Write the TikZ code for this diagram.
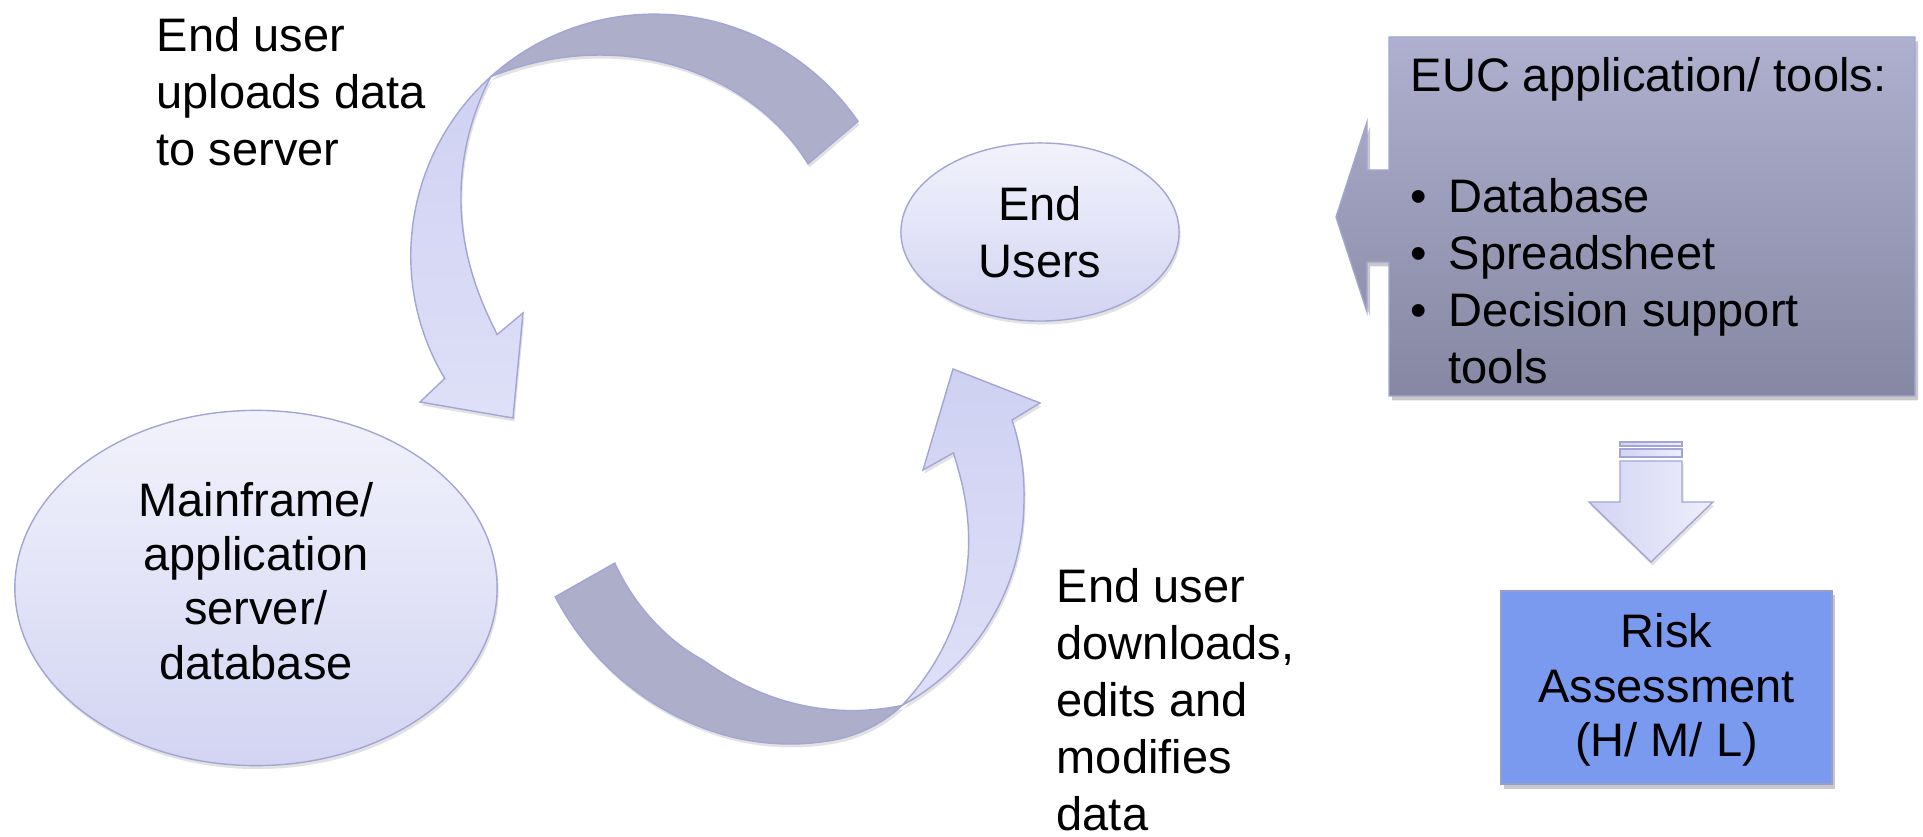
\documentclass[tikz,border=0pt]{standalone}
\usepackage{fontspec}
\setmainfont{Liberation Sans}
\usetikzlibrary{shapes.geometric,shadows}

\definecolor{ovalTop}{RGB}{242,242,252}
\definecolor{ovalBot}{RGB}{210,212,242}
\definecolor{edgeLav}{RGB}{163,166,212}
\definecolor{bandBack}{RGB}{172,174,202}
\definecolor{bandFrontA}{RGB}{207,209,242}
\definecolor{bandFrontB}{RGB}{222,224,248}
\definecolor{calloutTop}{RGB}{174,176,207}
\definecolor{calloutBot}{RGB}{134,135,162}
\definecolor{riskBlue}{RGB}{122,154,240}
\definecolor{riskEdge}{RGB}{150,158,205}
\definecolor{downL}{RGB}{210,212,243}
\definecolor{downR}{RGB}{238,238,251}

\newcommand{\slidetext}{\fontsize{13.37pt}{16.2pt}\selectfont}
\newcommand{\tighttext}{\fontsize{13.37pt}{15.45pt}\selectfont}
\newcommand{\bul}{\makebox[0.38cm][l]{•}}

\begin{document}
\begin{tikzpicture}[x=0.01cm,y=-0.01cm,
  declare function={
    sq(\a)=(\a)*(\a);
    topout(\t)=250-13*(\t-33.7)/176.3;
    topbackin(\t)=185+57.8*pow(max((\t-31.3)/99.7,0.02),2.5);
    topfrontin(\t)=170+72.8*pow(max(1-(\t-131)/75,0.02),1.74);
    botbackout(\t)=244+10*sq(max((\t-110)/47.6,0))-10*sq(max((80-(\t))/18.6,0));
    botbackin(\t)=182+52*pow(max((120-(\t))/58.6,0.02),1.4)+4*sq(max((\t-130)/30.2,0));
    botfrontout(\t)=234+2*max((0-(\t))/19.8,0);
    botfrontin(\t)=170+64*pow(max((\t+16.1)/77.5,0.02),1.6);
  },
  outline/.style={draw=edgeLav,line width=0.4pt},
  softshadow/.style={drop shadow={shadow xshift=0.015cm,shadow yshift=-0.035cm,opacity=0.16,fill=black!70}},
  boxshadow/.style={drop shadow={shadow xshift=0.03cm,shadow yshift=-0.045cm,opacity=0.3,fill=black!70}},
  backband/.style={fill=bandBack,outline,softshadow},
  frontband/.style={top color=bandFrontA,bottom color=bandFrontB,outline,softshadow},
  oval/.style={ellipse,top color=ovalTop,bottom color=ovalBot,outline,softshadow,
    align=center,font=\slidetext,inner sep=0pt},
  label/.style={font=\slidetext,align=left,inner sep=0pt,anchor=west}]

\fill[white] (0,0) rectangle (1923,837);
\useasboundingbox (0,0) rectangle (1923,837);

% upper ribbon arrow: back face, then front face with head
\path[backband]
  plot[domain=33.7:131,samples=60,variable=\p] ({650+topout(\p)*cos(\p)},{260-topout(\p)*sin(\p)})
  -- plot[domain=131:31.3,samples=60,variable=\p] ({650+topbackin(\p)*cos(\p)},{260-topbackin(\p)*sin(\p)})
  -- cycle;
\path[frontband]
  plot[domain=131:210,samples=60,variable=\p] ({650+topout(\p)*cos(\p)},{260-topout(\p)*sin(\p)})
  -- (420,402) -- (513,418) -- (523,313)
  -- plot[domain=206:131,samples=60,variable=\p] ({650+topfrontin(\p)*cos(\p)},{260-topfrontin(\p)*sin(\p)})
  -- cycle;

% lower ribbon arrow
\path[backband]
  plot[domain=157.6:61.4,samples=70,variable=\p] ({790+botbackout(\p)*cos(\p)},{500+botbackout(\p)*sin(\p)})
  -- plot[domain=61.4:160.2,samples=70,variable=\p] ({790+botbackin(\p)*cos(\p)},{500+botbackin(\p)*sin(\p)})
  -- cycle;
\path[frontband]
  plot[domain=61.4:-19.8,samples=60,variable=\p] ({790+botfrontout(\p)*cos(\p)},{500+botfrontout(\p)*sin(\p)})
  -- (1040,403) -- (953,369) -- (923,470)
  -- plot[domain=-16.1:61.4,samples=60,variable=\p] ({790+botfrontin(\p)*cos(\p)},{500+botfrontin(\p)*sin(\p)})
  -- cycle;

% ovals
\node[oval,minimum width=2.78cm,minimum height=1.78cm] (users) at (1040,232) {End\\Users};
\node[oval,minimum width=4.82cm,minimum height=3.55cm] (mainframe) at (256,588) {};
\node[font=\tighttext,align=center,inner sep=0pt] (mainframetext) at (256,581)
  {Mainframe/\\application\\server/\\database};

% side captions
\node[label] (upload) at (156,92) {End user\\uploads data\\to server};
\node[label] (download) at (1056,700) {End user\\downloads,\\edits and\\modifies\\data};

% callout box pointing at the users
\path[top color=calloutTop,bottom color=calloutBot,outline,boxshadow]
  (1389,37) -- (1915,37) -- (1915,396) -- (1389,396) -- (1389,262) -- (1367,262)
  -- (1367,312) -- (1336,217) -- (1367,122) -- (1367,170) -- (1389,170) -- cycle;
\node[label] (tools) at (1410,221)
  {EUC application/ tools:\\[0.64cm]\bul Database\\\bul Spreadsheet\\\bul Decision support\\\hspace*{0.38cm}tools};

% striped down arrow
\path[left color=downL,right color=downR,outline] (1620,442) rectangle (1682,446);
\path[left color=downL,right color=downR,outline] (1620,449) rectangle (1682,457);
\path[left color=downL,right color=downR,outline,softshadow]
  (1620,461) -- (1682,461) -- (1682,502) -- (1713,502) -- (1651,562) -- (1589,502) -- (1620,502) -- cycle;

% result box
\node[rectangle,fill=riskBlue,draw=riskEdge,line width=0.4pt,boxshadow,
  minimum width=3.31cm,minimum height=1.93cm,inner sep=0pt]
  (risk) at (1666.5,687.5) {};
\node[font=\tighttext,align=center,inner sep=0pt] (risktext) at (1666.5,690)
  {Risk\\Assessment\\(H/ M/ L)};

\end{tikzpicture}
\end{document}
